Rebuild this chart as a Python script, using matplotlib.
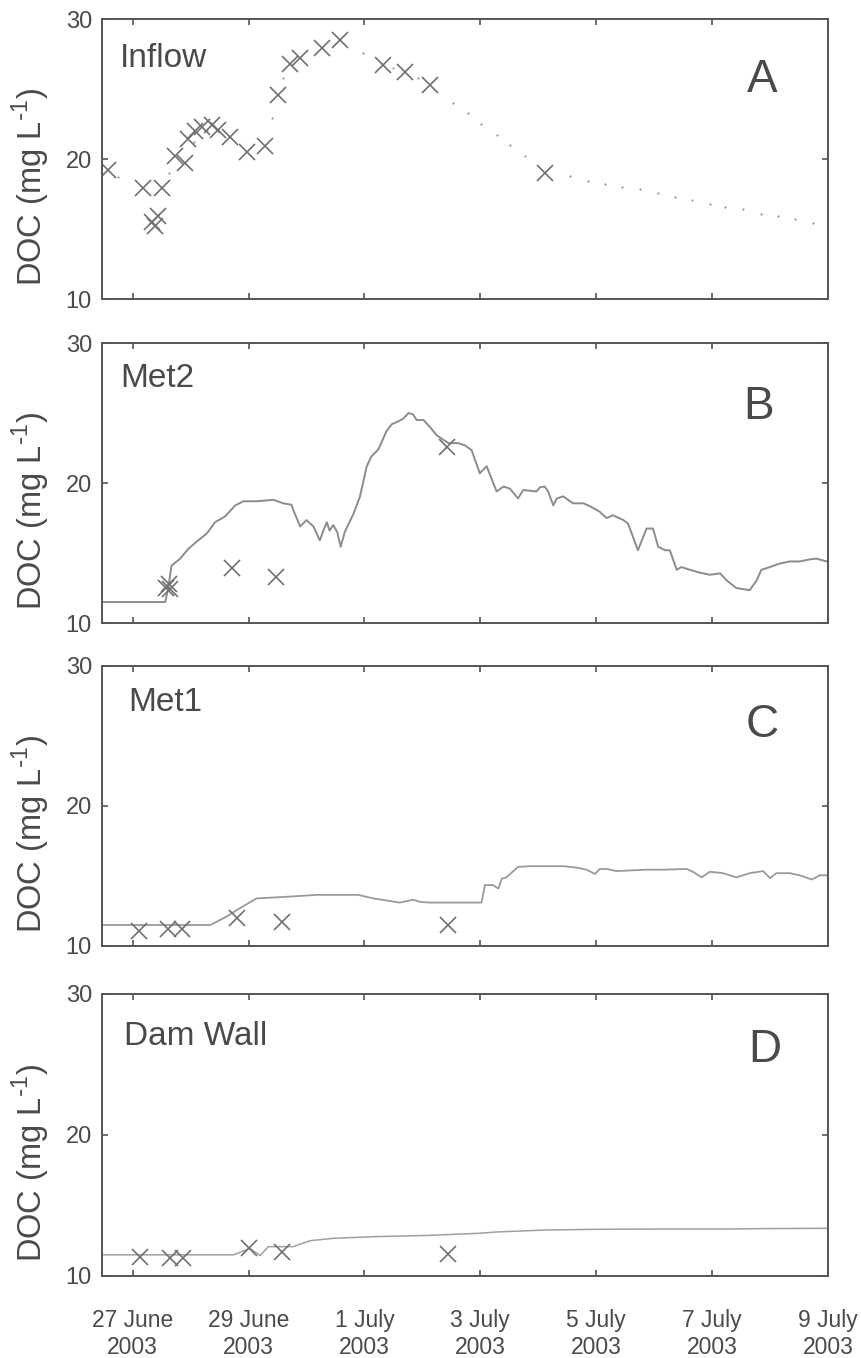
import matplotlib
matplotlib.use("Agg")
import matplotlib.pyplot as plt
import numpy as np

plt.rcParams["font.family"] = ["Liberation Sans", "DejaVu Sans"]

# time in days after 27 June 2003 (tick positions 0, 2, ... 12)
# --- Panel A: Inflow ---
inflow_obs_t = [-0.42, 0.18, 0.33, 0.385, 0.44, 0.50, 0.73, 0.90, 0.96, 1.075, 1.19, 1.36,
                1.48, 1.68, 1.97, 2.28, 2.51, 2.71, 2.89, 3.26, 3.58, 4.32, 4.70, 5.13, 7.12]
inflow_obs_v = [19.2, 17.9, 15.5, 15.2, 15.9, 17.9, 20.2, 19.7, 21.4, 22.0, 22.3, 22.4,
                22.1, 21.6, 20.5, 20.9, 24.6, 26.8, 27.2, 27.9, 28.5, 26.7, 26.2, 25.3, 19.0]
inflow_dot_t = [-0.25, 0.62, 1.05, 1.28, 2.41, 2.60, 3.98, 4.50, 4.92, 5.53, 5.79, 6.02,
                6.28, 6.51, 6.77, 7.55, 7.86, 8.15, 8.44, 8.75, 9.07, 9.36, 9.65, 9.96,
                10.22, 10.54, 10.85, 11.14, 11.43, 11.74]
inflow_dot_v = [18.7, 19.0, 21.2, 22.1, 22.9, 25.8, 27.6, 26.5, 25.8, 24.0, 23.3, 22.5,
                21.7, 21.0, 20.2, 18.8, 18.45, 18.2, 18.0, 17.85, 17.55, 17.3, 17.1, 16.8,
                16.6, 16.4, 16.1, 15.9, 15.7, 15.4]

# --- Panel B: Met2 ---
met2_t = [-0.54, 0.56, 0.61, 0.67, 0.82, 0.96, 1.10, 1.28, 1.42, 1.59, 1.77, 1.91, 2.14,
          2.43, 2.60, 2.74, 2.77, 2.89, 3.00, 3.12, 3.23, 3.29, 3.35, 3.40, 3.46, 3.53,
          3.59, 3.66, 3.81, 3.92, 4.04, 4.12, 4.24, 4.38, 4.47, 4.58, 4.67, 4.76, 4.84,
          4.90, 5.02, 5.13, 5.25, 5.45, 5.62, 5.73, 5.85, 5.99, 6.11, 6.28, 6.40, 6.51,
          6.65, 6.74, 6.97, 7.03, 7.11, 7.17, 7.26, 7.32, 7.43, 7.60, 7.78, 7.89, 8.06,
          8.18, 8.29, 8.47, 8.55, 8.72, 8.87, 8.98, 9.07, 9.19, 9.27, 9.39, 9.47, 9.62,
          9.79, 9.96, 10.14, 10.25, 10.42, 10.65, 10.77, 10.85, 11.00, 11.17, 11.34,
          11.51, 11.69, 11.80, 11.98]
met2_v = [11.5, 11.5, 12.4, 14.1, 14.6, 15.3, 15.8, 16.4, 17.2, 17.6, 18.4, 18.7, 18.7,
          18.8, 18.55, 18.45, 18.1, 16.9, 17.35, 16.9, 15.9, 16.6, 17.2, 16.6, 17.0, 16.5,
          15.45, 16.5, 17.8, 19.0, 21.2, 21.9, 22.4, 23.7, 24.2, 24.4, 24.6, 25.0, 24.9,
          24.5, 24.5, 24.0, 23.4, 22.85, 22.85, 22.7, 22.35, 20.7, 21.2, 19.4, 19.75, 19.6,
          18.9, 19.5, 19.4, 19.7, 19.75, 19.4, 18.4, 18.9, 19.05, 18.55, 18.55, 18.35, 17.95,
          17.5, 17.7, 17.35, 17.1, 15.2, 16.75, 16.75, 15.45, 15.2, 15.2, 13.8, 14.0, 13.8,
          13.6, 13.45, 13.55, 13.05, 12.5, 12.35, 13.05, 13.8, 14.0, 14.25, 14.4,
          14.4, 14.55, 14.6, 14.4]
met2_obs_t = [0.58, 0.62, 0.65, 1.72, 2.47, 5.43]
met2_obs_v = [12.5, 12.8, 12.4, 13.9, 13.3, 22.55]

# --- Panel C: Met1 ---
met1_t = [-0.54, 1.34, 1.62, 1.85, 2.14, 2.60, 3.18, 3.89, 4.15, 4.61, 4.84, 4.96, 5.13,
          6.02, 6.08, 6.22, 6.31, 6.37, 6.45, 6.65, 6.86, 7.43, 7.66, 7.83, 7.98, 8.06,
          8.18, 8.35, 8.87, 9.16, 9.56, 9.67, 9.82, 9.96, 10.19, 10.42, 10.65, 10.88,
          11.00, 11.11, 11.34, 11.51, 11.72, 11.86, 12.0]
met1_v = [11.5, 11.5, 12.1, 12.7, 13.4, 13.5, 13.65, 13.65, 13.4, 13.1, 13.3, 13.15, 13.1,
          13.1, 14.35, 14.35, 14.1, 14.8, 14.9, 15.65, 15.7, 15.7, 15.6, 15.45, 15.15, 15.5,
          15.5, 15.35, 15.45, 15.45, 15.5, 15.3, 14.9, 15.3, 15.2, 14.9, 15.2, 15.35,
          14.85, 15.2, 15.2, 15.05, 14.75, 15.05, 15.05]
met1_obs_t = [0.11, 0.61, 0.85, 1.80, 2.57, 5.45]
met1_obs_v = [11.07, 11.19, 11.19, 11.98, 11.74, 11.5]

# --- Panel D: Dam Wall ---
dam_t = [-0.54, 1.74, 2.02, 2.20, 2.34, 2.77, 3.06, 3.46, 4.18, 5.13, 5.99, 6.28, 7.14,
         8.01, 9.16, 10.31, 10.88, 12.0]
dam_v = [11.5, 11.5, 11.95, 11.45, 12.08, 12.08, 12.5, 12.67, 12.79, 12.88, 13.03, 13.12,
         13.26, 13.31, 13.33, 13.33, 13.36, 13.38]
dam_obs_t = [0.13, 0.64, 0.86, 2.01, 2.57, 5.45]
dam_obs_v = [11.37, 11.24, 11.24, 11.95, 11.71, 11.56]

tick_days = [0, 2, 4, 6, 8, 10, 12]
tick_labels = ["27 June\n2003", "29 June\n2003", "1 July\n2003", "3 July\n2003",
               "5 July\n2003", "7 July\n2003", "9 July\n2003"]
site_names = ["Inflow", "Met2", "Met1", "Dam Wall"]
panel_letters = ["A", "B", "C", "D"]

FRAME = "#555555"
TEXT = "#4a4a4a"
MARK = "#707070"
LINE = "#8c8c8c"

fig = plt.figure(figsize=(8.62, 13.58), dpi=100)
left, width = 0.118, 0.8425
bottoms = [0.7798, 0.5412, 0.3034, 0.0604]
heights = [0.2062, 0.2062, 0.2062, 0.2077]
axes = [fig.add_axes([left, b, width, h]) for b, h in zip(bottoms, heights)]

mk = dict(linestyle="none", marker="x", color=MARK, markersize=11, markeredgewidth=1.2)

axes[0].plot(inflow_dot_t, inflow_dot_v, linestyle="none", marker="o", markersize=1.6,
             color="#9a9a9a", markeredgewidth=0)
axes[0].plot(inflow_obs_t, inflow_obs_v, **mk)

axes[1].plot(met2_t, met2_v, color=LINE, linewidth=1.4)
axes[1].plot(met2_obs_t, met2_obs_v, **mk)

axes[2].plot(met1_t, met1_v, color="#9a9a9a", linewidth=1.3)
axes[2].plot(met1_obs_t, met1_obs_v, **mk)

axes[3].plot(dam_t, dam_v, color="#a0a0a0", linewidth=1.1)
axes[3].plot(dam_obs_t, dam_obs_v, **mk)

name_pos = [(0.025, 0.86), (0.025, 0.875), (0.036, 0.871), (0.031, 0.848)]
letter_pos = [(0.910, 0.782), (0.904, 0.771), (0.909, 0.789), (0.913, 0.80)]

for i, ax in enumerate(axes):
    ax.set_xlim(-0.535, 12)
    ax.set_ylim(10, 30)
    ax.set_yticks([10, 20, 30])
    ax.set_xticks(tick_days)
    for s in ax.spines.values():
        s.set_color(FRAME)
        s.set_linewidth(1.4)
    ax.tick_params(direction="in", top=True, right=True, length=4, width=1.2,
                   color=FRAME, labelcolor=TEXT, labelsize=17)
    ax.tick_params(axis="y", pad=7)
    if i == 3:
        ax.set_xticklabels(tick_labels, fontsize=16.5, linespacing=1.2)
        ax.tick_params(axis="x", pad=24)
    else:
        ax.set_xticklabels([])
    ax.set_ylabel("DOC (mg L$^{\\mathregular{\\text{-}1}}$)", fontsize=23.5, color=TEXT)
    ax.yaxis.set_label_coords(-0.069, 0.40)
    ax.text(name_pos[i][0], name_pos[i][1], site_names[i], transform=ax.transAxes,
            fontsize=24, color=TEXT, ha="left", va="center")
    ax.text(letter_pos[i][0], letter_pos[i][1], panel_letters[i], transform=ax.transAxes,
            fontsize=33, color=TEXT, ha="center", va="center")

fig.savefig("out.png", dpi=100)
